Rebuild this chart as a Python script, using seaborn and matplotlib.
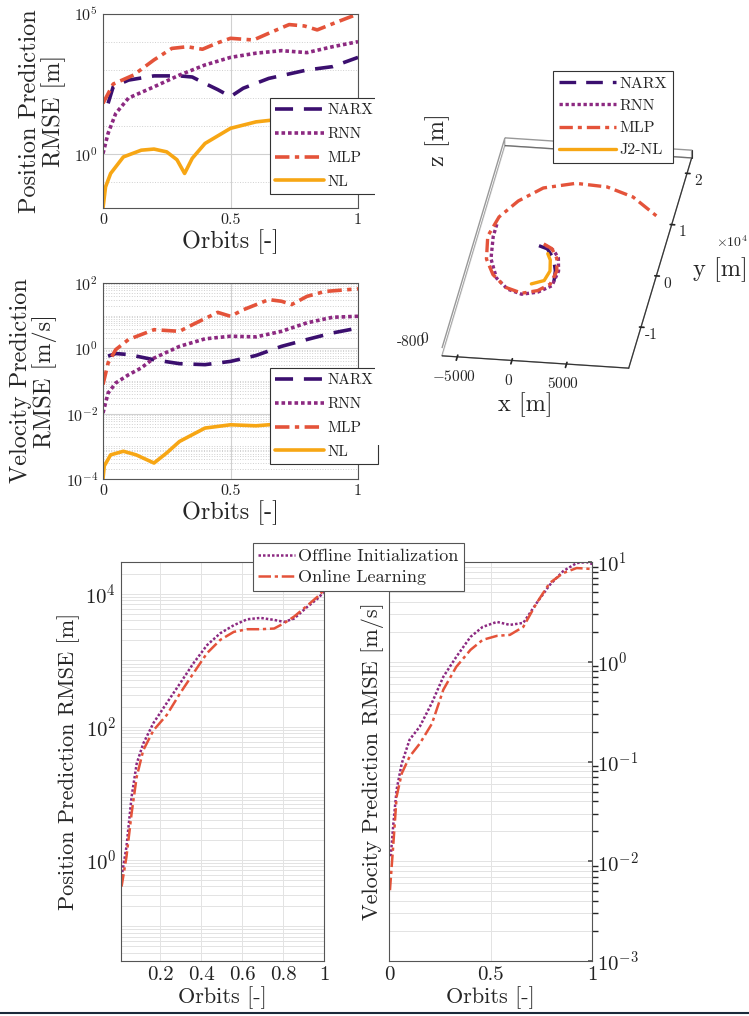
import numpy as np
import pandas as pd
import matplotlib
matplotlib.use("Agg")
import matplotlib.pyplot as plt
import seaborn as sns
from matplotlib.ticker import FixedLocator, FuncFormatter, LogLocator, NullFormatter

# ---- top-left: position RMSE (values are log10 of metres) ----
pos_mlp_x = [0, 0.04, 0.12, 0.2, 0.27, 0.33, 0.39, 0.45, 0.5, 0.59, 0.66, 0.73, 0.79, 0.84, 0.92, 1.0]
pos_mlp = [1.81, 2.5, 2.82, 3.36, 3.77, 3.83, 3.74, 3.97, 4.13, 4.07, 4.35, 4.62, 4.57, 4.43, 4.72, 5.0]
pos_rnn_x = [0, 0.02, 0.05, 0.1, 0.2, 0.3, 0.4, 0.5, 0.6, 0.7, 0.8, 0.9, 1.0]
pos_rnn = [0.02, 0.74, 1.45, 2.0, 2.4, 2.82, 3.18, 3.45, 3.6, 3.69, 3.62, 3.83, 4.01]
pos_narx_x = [0.02, 0.04, 0.1, 0.2, 0.3, 0.35, 0.4, 0.45, 0.5, 0.55, 0.65, 0.8, 0.9, 1.0]
pos_narx = [1.81, 2.4, 2.64, 2.79, 2.79, 2.75, 2.52, 2.3, 2.05, 2.35, 2.7, 3.0, 3.12, 3.45]
pos_nl_x = [0, 0.01, 0.03, 0.08, 0.15, 0.2, 0.25, 0.29, 0.32, 0.35, 0.4, 0.5, 0.6, 0.7, 0.85, 1.0]
pos_nl = [-1.93, -1.17, -0.69, -0.1, 0.14, 0.18, 0.08, -0.2, -0.69, -0.15, 0.38, 0.92, 1.15, 1.25, 1.35, 1.45]

# ---- middle-left: velocity RMSE (log10 of m/s) ----
vel_mlp_x = [0, 0.02, 0.05, 0.1, 0.2, 0.3, 0.35, 0.45, 0.5, 0.55, 0.65, 0.7, 0.74, 0.8, 0.87, 1.0]
vel_mlp = [-1.11, -0.45, -0.04, 0.27, 0.57, 0.52, 0.72, 1.1, 0.98, 1.18, 1.49, 1.44, 1.34, 1.59, 1.74, 1.82]
vel_rnn_x = [0, 0.02, 0.05, 0.1, 0.15, 0.2, 0.3, 0.4, 0.5, 0.6, 0.7, 0.8, 0.9, 1.0]
vel_rnn = [-1.98, -1.37, -1.06, -0.81, -0.6, -0.3, 0.06, 0.29, 0.37, 0.35, 0.52, 0.78, 0.95, 0.98]
vel_narx_x = [0.02, 0.05, 0.1, 0.2, 0.3, 0.4, 0.5, 0.6, 0.7, 0.8, 0.9, 1.0]
vel_narx = [-0.24, -0.16, -0.19, -0.35, -0.47, -0.5, -0.4, -0.22, 0.06, 0.27, 0.47, 0.62]
vel_nl_x = [0, 0.005, 0.03, 0.08, 0.13, 0.2, 0.25, 0.3, 0.4, 0.5, 0.6, 0.65, 0.8, 1.0]
vel_nl = [-4.0, -3.6, -3.26, -3.15, -3.26, -3.51, -3.2, -2.85, -2.44, -2.34, -2.37, -2.34, -2.25, -2.1]

# ---- 3D trajectories [m], from the centre outwards ----
traj_mlp_x = [-60, 800, 1500, 1840, 1600, 650, -700, -2300, -3800, -4800, -5300, -4800, -3500, -1600, 1200, 4100, 6700, 9560]
traj_mlp_y = [3200, 2400, 600, -1800, -4400, -5800, -6500, -5600, -3300, -400, 4000, 7800, 11100, 13900, 15200, 14900, 13300, 9660]
traj_rnn_x = [140, 1000, 1630, 2000, 1800, 700, -700, -2100, -3400, -4400, -4800, -4800]
traj_rnn_y = [2900, 2100, 700, -1800, -4700, -6100, -6700, -5900, -3900, -300, 4000, 6500]
traj_narx_x = [-440, 390, 1200, 1700, 1900]
traj_narx_y = [2800, 2300, 600, -1800, -4300]
traj_nl_x = [560, 960, 1230, 960, -100]
traj_nl_y = [1400, 200, -1900, -3800, -4600]

# ---- bottom: offline vs online ----
on_pos_x = [0.01, 0.034, 0.059, 0.084, 0.116, 0.166, 0.231, 0.297, 0.362, 0.428, 0.493, 0.559, 0.625, 0.69, 0.756, 0.805, 0.854, 0.92, 0.969, 1.0]
off_pos = [-0.25, 0.2, 0.95, 1.45, 1.75, 2.06, 2.36, 2.66, 2.96, 3.23, 3.41, 3.53, 3.62, 3.64, 3.61, 3.58, 3.63, 3.81, 3.93, 4.03]
onl_pos = [-0.4, 0.05, 0.7, 1.25, 1.65, 1.95, 2.18, 2.51, 2.81, 3.11, 3.31, 3.43, 3.47, 3.47, 3.48, 3.56, 3.66, 3.83, 3.96, 4.06]
off_vel_x = [0.007, 0.02, 0.036, 0.061, 0.1, 0.15, 0.21, 0.266, 0.33, 0.4, 0.46, 0.53, 0.594, 0.66, 0.726, 0.79, 0.857, 0.923, 0.972, 1.0]
off_vel = [-1.95, -1.62, -1.28, -1.02, -0.78, -0.65, -0.41, -0.15, 0.05, 0.25, 0.35, 0.4, 0.37, 0.39, 0.59, 0.77, 0.91, 0.99, 1.0, 0.98]
onl_vel_x = [0.003, 0.02, 0.036, 0.061, 0.1, 0.15, 0.21, 0.266, 0.33, 0.4, 0.46, 0.53, 0.594, 0.66, 0.726, 0.79, 0.857, 0.923, 1.0]
onl_vel = [-2.29, -1.82, -1.35, -1.12, -0.95, -0.82, -0.62, -0.28, -0.05, 0.12, 0.22, 0.26, 0.27, 0.35, 0.59, 0.79, 0.89, 0.94, 0.93]

sns.set_theme(style="white")
plt.rcParams["font.family"] = "serif"
plt.rcParams["font.serif"] = ["cmr10", "DejaVu Serif"]
plt.rcParams["mathtext.fontset"] = "cm"
plt.rcParams["axes.formatter.use_mathtext"] = True
plt.rcParams["axes.unicode_minus"] = False

c_narx, c_rnn, c_mlp, c_nl = "#3b0f6f", "#8c2981", "#e4533a", "#f7a614"
GRID = "#d0d0d0"
FRAME = "#555555"

fig = plt.figure(figsize=(7.49, 10.16), dpi=100)


def line(ax, xs, logs, color, ls, lw, label):
    df = pd.DataFrame({"x": xs, "y": np.power(10.0, logs)})
    sns.lineplot(data=df, x="x", y="y", ax=ax, color=color, linestyle=ls,
                 linewidth=lw, label=label, sort=False, legend=False)


def frame(ax):
    for s in ax.spines.values():
        s.set_color(FRAME)
        s.set_linewidth(0.8)
    ax.tick_params(direction="in", length=3, color=FRAME, labelcolor="#222222")
    ax.set_xlabel("")
    ax.set_ylabel("")


def top_panel(ax, series, ylab, ylim, major, minor_dotted):
    for xs, logs, c, ls, lab in series:
        line(ax, xs, logs, c, ls, 2.6, lab)
    ax.set_yscale("log")
    ax.set_ylim(*ylim)
    ax.set_xlim(0, 1)
    frame(ax)
    ax.set_xticks([0, 0.5, 1])
    ax.xaxis.set_major_formatter(FuncFormatter(lambda v, p: f"{v:g}"))
    ax.yaxis.set_major_locator(FixedLocator(major))
    ax.yaxis.set_minor_locator(minor_dotted)
    ax.yaxis.set_minor_formatter(NullFormatter())
    ax.tick_params(axis="both", labelsize=11.5)
    ax.grid(True, which="major", color=GRID, lw=0.8)
    ax.grid(True, which="minor", axis="y", color=GRID, lw=0.7, ls=":")
    ax.set_xlabel("Orbits [-]", fontsize=17.5, labelpad=2)
    ax.set_ylabel(ylab, fontsize=17.5, labelpad=6, linespacing=1.0)
    leg = ax.legend(loc="upper left", bbox_to_anchor=(0.655, 0.565), fontsize=11,
                    handlelength=3.2, handletextpad=0.2, labelspacing=0.66,
                    borderpad=0.35, borderaxespad=0, fancybox=False, framealpha=1)
    leg.get_frame().set_edgecolor("#333333")
    leg.get_frame().set_linewidth(0.8)
    leg.set_zorder(5)
    for t in leg.get_texts():
        t.set_color("#222222")


ax1 = fig.add_axes([0.1375, 0.7953, 0.3405, 0.191])
top_panel(ax1,
          [(pos_narx_x, pos_narx, c_narx, (0, (5, 3)), "NARX"),
           (pos_rnn_x, pos_rnn, c_rnn, (0, (1, 0.8)), "RNN"),
           (pos_mlp_x, pos_mlp, c_mlp, (0, (4, 1.5, 1.2, 1.5)), "MLP"),
           (pos_nl_x, pos_nl, c_nl, "-", "NL")],
          "Position Prediction\nRMSE [m]", (0.012, 1e5), [1, 1e5],
          LogLocator(base=10, numticks=20))

ax2 = fig.add_axes([0.1375, 0.5285, 0.3405, 0.193])
top_panel(ax2,
          [(vel_narx_x, vel_narx, c_narx, (0, (5, 3)), "NARX"),
           (vel_rnn_x, vel_rnn, c_rnn, (0, (1, 0.8)), "RNN"),
           (vel_mlp_x, vel_mlp, c_mlp, (0, (4, 1.5, 1.2, 1.5)), "MLP"),
           (vel_nl_x, vel_nl, c_nl, "-", "NL")],
          "Velocity Prediction\nRMSE [m/s]", (1e-4, 1e2), [1e-4, 1e-2, 1, 1e2],
          LogLocator(base=10, subs=np.arange(1, 10), numticks=40))

# ---- 3D trajectory ----
ax3 = fig.add_axes([0.50, 0.536, 0.50, 0.42], projection="3d")
ax3.set_proj_type("ortho")
for xs, ys, c, ls, lab in [(traj_narx_x, traj_narx_y, c_narx, (0, (5, 3)), "NARX"),
                           (traj_rnn_x, traj_rnn_y, c_rnn, (0, (1, 0.8)), "RNN"),
                           (traj_mlp_x, traj_mlp_y, c_mlp, (0, (4, 1.5, 1.2, 1.5)), "MLP"),
                           (traj_nl_x, traj_nl_y, c_nl, "-", "J2-NL")]:
    ax3.plot(xs, ys, np.zeros(len(xs)), color=c, linestyle=ls, lw=2.4, label=lab)
ax3.set_xlim(-6400, 10700)
ax3.set_ylim(-18000, 23000)
ax3.set_zlim(-800, 0)
ax3.set_box_aspect((17100, 41000, 800), zoom=1.27)
ax3.view_init(elev=28, azim=-82)
ax3.grid(False)
for a in (ax3.xaxis, ax3.yaxis, ax3.zaxis):
    a.pane.set_facecolor((1, 1, 1, 0))
    a.pane.set_edgecolor("#333333")
    a.line.set_color("#333333")
    a.line.set_linewidth(0.8)
ax3.set_xticks([-5000, 0, 5000])
ax3.set_yticks([-10000, 0, 10000, 20000])
ax3.yaxis.set_major_formatter(FuncFormatter(lambda v, p: f"{v / 1e4:g}"))
ax3.set_zticks([])
ax3.tick_params(labelsize=11, pad=0)
fig.text(425 / 749, 1 - 342 / 1016, "-800", fontsize=11, ha="right", va="center")
fig.text(428 / 749, 1 - 339 / 1016, "0", fontsize=11, ha="right", va="center")
fig.text(748 / 749, 1 - 242 / 1016, r"$\times10^4$", fontsize=10, ha="right", va="center")
fig.text(525 / 749, 1 - 405 / 1016, "x [m]", fontsize=17.5, ha="center", va="center")
fig.text(720 / 749, 1 - 270 / 1016, "y [m]", fontsize=17.5, ha="center", va="center")
fig.text(438 / 749, 1 - 140 / 1016, "z [m]", fontsize=17.5, ha="center", va="center", rotation=90)
leg3 = ax3.legend(loc="upper left", bbox_to_anchor=(553 / 749, 1 - 71 / 1016),
                  bbox_transform=fig.transFigure, fontsize=11.5, handlelength=3.6,
                  handletextpad=0.2, labelspacing=0.5, borderpad=0.35, borderaxespad=0,
                  fancybox=False, framealpha=1)
leg3.get_frame().set_edgecolor("#333333")
leg3.get_frame().set_linewidth(0.8)

# ---- bottom panels ----
ax4 = fig.add_axes([0.1615, 0.0541, 0.271, 0.3927])
line(ax4, on_pos_x, off_pos, c_rnn, (0, (1, 0.8)), 1.8, "Offline Initialization")
line(ax4, on_pos_x, onl_pos, c_mlp, (0, (5, 1.5, 1.3, 1.5)), 1.8, "Online Learning")
ax4.set_yscale("log")
ax4.set_ylim(10 ** -1.52, 10 ** 4.48)
ax4.set_xlim(0.007, 1)
frame(ax4)
ax4.set_xticks([0.2, 0.4, 0.6, 0.8, 1])
ax4.xaxis.set_major_formatter(FuncFormatter(lambda v, p: f"{v:g}"))
ax4.yaxis.set_major_locator(FixedLocator([1, 1e2, 1e4]))
ax4.yaxis.set_minor_locator(LogLocator(base=10, subs=np.arange(1, 10), numticks=40))
ax4.yaxis.set_minor_formatter(NullFormatter())
ax4.tick_params(axis="both", labelsize=15)
ax4.grid(True, which="both", color="#e3e3e3", lw=0.7)
ax4.set_xlabel("Orbits [-]", fontsize=16, labelpad=2)
ax4.set_ylabel("Position Prediction RMSE [m]", fontsize=16, labelpad=4)

ax5 = fig.add_axes([0.5198, 0.0541, 0.271, 0.3927])
line(ax5, off_vel_x, off_vel, c_rnn, (0, (1, 0.8)), 1.8, "Offline Initialization")
line(ax5, onl_vel_x, onl_vel, c_mlp, (0, (5, 1.5, 1.3, 1.5)), 1.8, "Online Learning")
ax5.set_yscale("log")
ax5.set_ylim(1e-3, 1e1)
ax5.set_xlim(0, 1)
frame(ax5)
ax5.yaxis.tick_right()
ax5.set_xticks([0, 0.5, 1])
ax5.xaxis.set_major_formatter(FuncFormatter(lambda v, p: f"{v:g}"))
ax5.yaxis.set_major_locator(FixedLocator([1e-3, 1e-2, 1e-1, 1, 10]))
ax5.yaxis.set_minor_locator(LogLocator(base=10, subs=np.arange(1, 10), numticks=40))
ax5.yaxis.set_minor_formatter(NullFormatter())
ax5.tick_params(axis="both", labelsize=15)
ax5.grid(True, which="both", color="#e3e3e3", lw=0.7)
ax5.set_xlabel("Orbits [-]", fontsize=16, labelpad=2)
ax5.set_ylabel("Velocity Prediction RMSE [m/s]", fontsize=16, labelpad=4)
ax5.yaxis.set_label_position("left")

h, l = ax4.get_legend_handles_labels()
leg4 = fig.legend(h, l, loc="upper left", bbox_to_anchor=(253 / 749, 1 - 543 / 1016),
                  fontsize=13, handlelength=2.0, handletextpad=0.2, labelspacing=0.3,
                  borderpad=0.3, borderaxespad=0, fancybox=False, framealpha=1)
leg4.get_frame().set_edgecolor("#555555")
leg4.get_frame().set_linewidth(0.8)

fig.add_artist(plt.Line2D([0, 1], [0.0025, 0.0025], color="#1a2a3a", lw=1.5))

fig.savefig("out.png", dpi=100)
